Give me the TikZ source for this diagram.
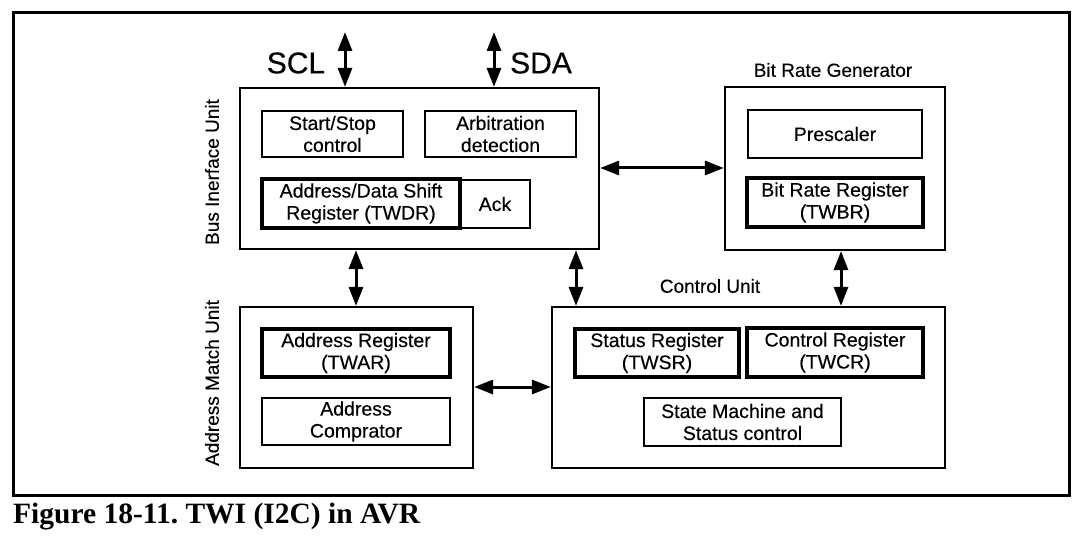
\documentclass[tikz,border=0pt]{standalone}
\usepackage{fontspec}
\setmainfont{Liberation Serif}
\newfontfamily\arialf[FakeBold=0.3]{Liberation Sans}
\usetikzlibrary{arrows.meta}
\frenchspacing
\begin{document}
\begin{tikzpicture}[x=1pt,y=-1pt,
  unitbox/.style={draw=black, line width=2.2pt, inner sep=0pt},
  thinbox/.style={draw=black, line width=2.2pt, inner sep=0pt, align=center,
     font=\arialf\fontsize{19.5}{22}\selectfont},
  thickbox/.style={draw=black, line width=4pt, inner sep=0pt, align=center,
     font=\arialf\fontsize{19.5}{22}\selectfont},
  lbl/.style={inner sep=0pt, font=\arialf\fontsize{19}{22}\selectfont},
  biglbl/.style={inner sep=0pt, font=\arialf\fontsize{30}{34}\selectfont},
  biarrow/.style={line width=3pt,
     {Triangle[length=19pt,width=14pt]}-{Triangle[length=19pt,width=14pt]}}
]
\useasboundingbox (0,0) rectangle (1078,537);
\fill[white] (0,0) rectangle (1078,537);
% outer frame
\node[draw=black, line width=3pt, minimum width=1056pt, minimum height=482pt, inner sep=0pt] (frame) at (541,254) {};
% Bus interface unit
\node[unitbox, minimum width=359pt, minimum height=161pt] (biu) at (419.5,168.5) {};
\node[thinbox, minimum width=141pt, minimum height=46pt] (ss) at (332.5,134) {Start/Stop\\control};
\node[thinbox, minimum width=151pt, minimum height=46pt] (arb) at (500.5,134) {Arbitration\\detection};
\node[thickbox, minimum width=198pt, minimum height=49pt] (twdr) at (361,203.5) {Address/Data Shift\\Register (TWDR)};
\node[thinbox, minimum width=70pt, minimum height=48pt] (ack) at (495,204) {Ack};
\node[lbl, rotate=90] (biul) at (212,172) {Bus Inerface Unit};
% Bit rate generator
\node[unitbox, minimum width=220pt, minimum height=163pt] (brg) at (835,168.5) {};
\node[thinbox, minimum width=174pt, minimum height=48pt] (presc) at (835,134) {Prescaler};
\node[thickbox, minimum width=176pt, minimum height=49pt] (twbr) at (835,202.5) {Bit Rate Register\\(TWBR)};
\node[lbl] (brgl) at (833,70) {Bit Rate Generator};
% Address match unit
\node[unitbox, minimum width=233pt, minimum height=161pt] (amu) at (356.5,387.5) {};
\node[thickbox, minimum width=188pt, minimum height=48pt] (twar) at (356,353) {Address Register\\(TWAR)};
\node[thinbox, minimum width=188pt, minimum height=47pt] (comp) at (356,421.5) {Address\\Comprator};
\node[lbl, rotate=90] (amul) at (212,383) {Address Match Unit};
% Control unit
\node[unitbox, minimum width=393pt, minimum height=161pt] (cu) at (748.5,387.5) {};
\node[thickbox, minimum width=164pt, minimum height=48pt] (twsr) at (657,353) {Status Register\\(TWSR)};
\node[thickbox, minimum width=176pt, minimum height=49pt] (twcr) at (835,352.5) {Control Register\\(TWCR)};
\node[thinbox, minimum width=197pt, minimum height=48pt] (sm) at (742.5,422) {State Machine and\\Status control};
\node[lbl] (cul) at (710,286) {Control Unit};
% SCL / SDA
\node[biglbl] (scl) at (296,63) {SCL};
\node[biglbl] (sda) at (541,63) {SDA};
\coordinate (sclend) at (345,32);
\coordinate (sdaend) at (494,32);
\draw[biarrow] (sclend) -- (sclend |- biu.north);
\draw[biarrow] (sdaend) -- (sdaend |- biu.north);
% connections
\coordinate (xa) at (356,0);
\coordinate (xb) at (576,0);
\coordinate (xc) at (841,0);
\coordinate (ya) at (0,168);
\coordinate (yb) at (0,387);
\draw[biarrow] (biu.east |- ya) -- (brg.west |- ya);
\draw[biarrow] (xa |- biu.south) -- (xa |- amu.north);
\draw[biarrow] (xb |- biu.south) -- (xb |- cu.north);
\draw[biarrow] (xc |- brg.south) -- (xc |- cu.north);
\draw[biarrow] (amu.east |- yb) -- (cu.west |- yb);
% caption
\node[anchor=west, inner sep=0pt, font=\bfseries\fontsize{29.5}{32}\selectfont] (cap) at (13,517) {Figure 18-11. TWI (I2C) in AVR};
\end{tikzpicture}
\end{document}
